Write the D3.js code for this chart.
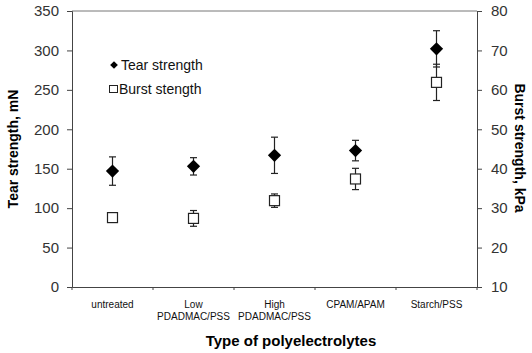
<!DOCTYPE html>
<html>
<head>
<meta charset="utf-8">
<script src="https://cdn.jsdelivr.net/npm/d3@7"></script>
<style>
  body { margin: 0; background: #fff; }
  text { font-family: "Liberation Sans", Arial, sans-serif; }
</style>
</head>
<body>
<script>
var categories = [["untreated"], ["Low", "PDADMAC/PSS"], ["High", "PDADMAC/PSS"], ["CPAM/APAM"], ["Starch/PSS"]];
var tearValues = [147, 153, 167, 173, 302];
var tearErrors = [18, 11, 23, 13, 23];
var burstValues = [27.6, 27.4, 31.9, 37.4, 61.9];
var burstErrors = [0.3, 2.0, 1.7, 2.7, 4.6];
var leftTicks = [0, 50, 100, 150, 200, 250, 300, 350];
var rightTicks = [10, 20, 30, 40, 50, 60, 70, 80];

var W = 532, H = 353;
var margin = {top: 11, right: 55, bottom: 66, left: 72},
  width = 477 - margin.left,
  height = 287 - margin.top;

var svg = d3.select("body").append("svg")
  .attr("width", W).attr("height", H);

var g = svg.append("g")
  .attr("transform", "translate(" + margin.left + "," + margin.top + ")");

var x = d3.scaleBand().domain(d3.range(categories.length)).range([0, width]);
var yL = d3.scaleLinear().domain([0, 350]).range([height, 0]);
var yR = d3.scaleLinear().domain([10, 80]).range([height, 0]);

var axisColor = "#444";

// top border
g.append("line").attr("x1", 0).attr("x2", width).attr("y1", 0).attr("y2", 0)
  .attr("stroke", "#777").attr("stroke-width", 1);

var ax = g.append("g").attr("transform", "translate(0," + height + ")")
  .call(d3.axisBottom(x).tickSize(0).tickFormat(""));
ax.select(".domain").attr("stroke", axisColor);
// ticks between categories
ax.selectAll(".sep").data(d3.range(categories.length + 1)).enter().append("line")
  .attr("x1", function (d) { return d * x.step(); })
  .attr("x2", function (d) { return d * x.step(); })
  .attr("y1", 0).attr("y2", 3).attr("stroke", axisColor);

var cl = ax.selectAll(".cat").data(categories).enter().append("text")
  .attr("x", function (d, i) { return x(i) + x.bandwidth() / 2; })
  .attr("y", 21)
  .attr("text-anchor", "middle")
  .attr("font-size", "10px").attr("fill", "#111");
cl.selectAll("tspan").data(function (d) { return d; }).enter().append("tspan")
  .attr("x", function () { return d3.select(this.parentNode).attr("x"); })
  .attr("dy", function (d, i) { return i === 0 ? 0 : "1.2em"; })
  .text(function (d) { return d; });

var al = g.append("g").call(d3.axisLeft(yL).tickValues(leftTicks).tickSize(5).tickPadding(8));
var ar = g.append("g").attr("transform", "translate(" + width + ",0)")
  .call(d3.axisRight(yR).tickValues(rightTicks).tickSize(5).tickPadding(9));
[al, ar].forEach(function (a) {
  a.select(".domain").attr("stroke", axisColor);
  a.selectAll(".tick line").attr("stroke", axisColor);
  a.selectAll(".tick text").attr("font-size", "15px").attr("fill", "#333")
    .style("font-family", "Liberation Sans, Arial, sans-serif");
});

// axis titles
svg.append("text").attr("transform", "translate(18,149) rotate(-90)")
  .attr("text-anchor", "middle").attr("font-size", "14px").attr("font-weight", "bold")
  .text("Tear strength, mN");
svg.append("text").attr("transform", "translate(515,148) rotate(90)")
  .attr("text-anchor", "middle").attr("font-size", "14px").attr("font-weight", "bold")
  .text("Burst strength, kPa");
svg.append("text").attr("x", 291).attr("y", 346)
  .attr("text-anchor", "middle").attr("font-size", "15px").attr("font-weight", "bold")
  .text("Type of polyelectrolytes");

function errorBars(vals, errs, y) {
  var eb = g.append("g").selectAll("g").data(vals).enter().append("g")
    .attr("stroke", "#222").attr("stroke-width", 1.2);
  eb.append("line")
    .attr("x1", function (d, i) { return x(i) + x.bandwidth() / 2; })
    .attr("x2", function (d, i) { return x(i) + x.bandwidth() / 2; })
    .attr("y1", function (d, i) { return y(d - errs[i]); })
    .attr("y2", function (d, i) { return y(d + errs[i]); });
  [-1, 1].forEach(function (s) {
    eb.append("line")
      .attr("x1", function (d, i) { return x(i) + x.bandwidth() / 2 - 3.5; })
      .attr("x2", function (d, i) { return x(i) + x.bandwidth() / 2 + 3.5; })
      .attr("y1", function (d, i) { return y(d + s * errs[i]); })
      .attr("y2", function (d, i) { return y(d + s * errs[i]); });
  });
}
errorBars(burstValues, burstErrors, yR);
errorBars(tearValues, tearErrors, yL);

var diamond = d3.symbol().type(d3.symbolSquare).size(88);
g.append("g").selectAll("rect").data(burstValues).enter().append("rect")
  .attr("x", function (d, i) { return x(i) + x.bandwidth() / 2 - 5; })
  .attr("y", function (d) { return yR(d) - 5; })
  .attr("width", 10).attr("height", 10)
  .attr("fill", "#fff").attr("stroke", "#222").attr("stroke-width", 1.2);
g.append("g").selectAll("path").data(tearValues).enter().append("path")
  .attr("d", diamond)
  .attr("transform", function (d, i) { return "translate(" + (x(i) + x.bandwidth() / 2) + "," + yL(d) + ") rotate(45)"; })
  .attr("fill", "#000");

// legend
var lg = svg.append("g");
lg.append("path").attr("d", d3.symbol().type(d3.symbolSquare).size(30))
  .attr("transform", "translate(114,65) rotate(45)").attr("fill", "#000");
lg.append("text").attr("x", 121).attr("y", 70).attr("font-size", "14px").attr("fill", "#111")
  .text("Tear strength");
lg.append("rect").attr("x", 109.5).attr("y", 85.5).attr("width", 8).attr("height", 7)
  .attr("fill", "#fff").attr("stroke", "#222");
lg.append("text").attr("x", 119).attr("y", 94).attr("font-size", "14px").attr("fill", "#111")
  .text("Burst stength");
</script>
</body>
</html>
